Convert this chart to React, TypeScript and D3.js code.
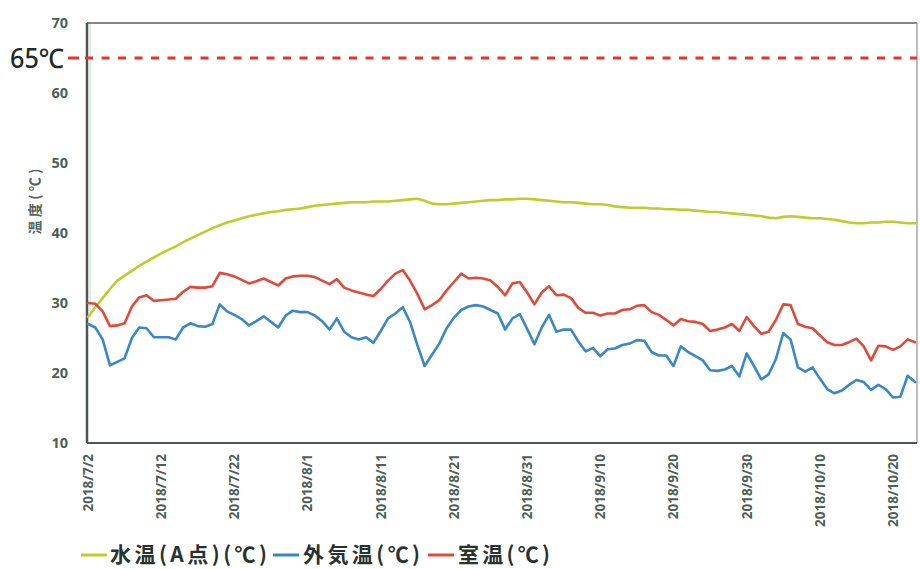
import React from "react";
import * as d3 from "d3";

const startDate = new Date(2018, 6, 2);
const endDate = new Date(2018, 9, 23);

const waterTemp = [
  28.0, 29.4, 30.7, 32.0, 33.2, 33.9, 34.6, 35.3, 35.9, 36.5,
  37.1, 37.6, 38.1, 38.7, 39.2, 39.7, 40.2, 40.7, 41.1, 41.5,
  41.8, 42.1, 42.4, 42.6, 42.8, 43.0, 43.1, 43.3, 43.4, 43.5,
  43.7, 43.9, 44.0, 44.1, 44.2, 44.3, 44.4, 44.4, 44.4, 44.5,
  44.5, 44.5, 44.6, 44.7, 44.8, 44.9, 44.6, 44.2, 44.1, 44.1,
  44.2, 44.3, 44.4, 44.5, 44.6, 44.7, 44.7, 44.8, 44.8, 44.9,
  44.9, 44.8, 44.7, 44.6, 44.5, 44.4, 44.4, 44.3, 44.2, 44.1,
  44.1, 44.0, 43.8, 43.7, 43.6, 43.6, 43.6, 43.5, 43.5, 43.4,
  43.4, 43.3, 43.3, 43.2, 43.1, 43.0, 43.0, 42.9, 42.8, 42.7,
  42.6, 42.5, 42.4, 42.2, 42.1, 42.3, 42.4, 42.3, 42.2, 42.1,
  42.1, 42.0, 41.9, 41.7, 41.5, 41.4, 41.4, 41.5, 41.5, 41.6,
  41.6, 41.5, 41.4, 41.4,
];

const outdoorTemp = [
  27.0, 26.5, 24.8, 21.1, 21.6, 22.1, 25.0, 26.5, 26.4, 25.1,
  25.1, 25.1, 24.8, 26.5, 27.1, 26.7, 26.6, 27.0, 29.8, 28.8,
  28.3, 27.7, 26.8, 27.4, 28.1, 27.3, 26.5, 28.2, 28.9, 28.7,
  28.7, 28.2, 27.4, 26.2, 27.8, 25.9, 25.1, 24.8, 25.1, 24.3,
  26.0, 27.8, 28.5, 29.4, 27.3, 24.0, 21.0, 22.6, 24.2, 26.4,
  27.9, 29.0, 29.5, 29.7, 29.5, 29.0, 28.5, 26.2, 27.8, 28.4,
  26.3, 24.1, 26.5, 28.3, 25.9, 26.2, 26.2, 24.5, 23.1, 23.6,
  22.4, 23.4, 23.5, 24.0, 24.2, 24.7, 24.6, 23.0, 22.5, 22.5,
  21.0, 23.8, 23.0, 22.4, 21.8, 20.4, 20.3, 20.5, 21.0, 19.5,
  22.8, 21.0, 19.1, 19.8, 22.0, 25.7, 24.8, 20.8, 20.2, 20.8,
  19.2, 17.7, 17.1, 17.5, 18.3, 19.0, 18.7, 17.6, 18.3, 17.7,
  16.5, 16.6, 19.6, 18.7,
];

const roomTemp = [
  30.0, 29.9, 28.8, 26.7, 26.8, 27.1, 29.5, 30.8, 31.1, 30.3,
  30.4, 30.5, 30.6, 31.6, 32.3, 32.2, 32.2, 32.4, 34.3, 34.1,
  33.8, 33.3, 32.8, 33.1, 33.5, 33.0, 32.5, 33.5, 33.8, 33.9,
  33.9, 33.7, 33.2, 32.7, 33.4, 32.2, 31.8, 31.5, 31.2, 31.0,
  32.0, 33.2, 34.2, 34.7, 33.2, 31.3, 29.1, 29.7, 30.4, 31.8,
  33.0, 34.2, 33.5, 33.6, 33.5, 33.2, 32.3, 31.1, 32.8, 33.0,
  31.5, 29.8, 31.5, 32.4, 31.1, 31.2, 30.7, 29.3, 28.6, 28.6,
  28.2, 28.5, 28.5, 29.0, 29.1, 29.6, 29.7, 28.7, 28.3, 27.6,
  26.8, 27.7, 27.4, 27.3, 27.0, 26.0, 26.2, 26.5, 27.0, 26.0,
  28.0, 26.7, 25.6, 25.9, 27.6, 29.8, 29.7, 27.0, 26.6, 26.4,
  25.4, 24.4, 24.0, 24.0, 24.4, 24.9, 23.8, 21.8, 23.9, 23.8,
  23.3, 23.8, 24.8, 24.4,
];

const yTicks = [10, 20, 30, 40, 50, 60, 70];
const xTickLabels = [
  "2018/7/2", "2018/7/12", "2018/7/22", "2018/8/1", "2018/8/11", "2018/8/21",
  "2018/8/31", "2018/9/10", "2018/9/20", "2018/9/30", "2018/10/10", "2018/10/20",
];
const limitValue = 65;
const limitLabel = "65℃";
const yAxisTitle = "温度(℃)";
const seriesNames = ["水温(A点)(℃)", "外気温(℃)", "室温(℃)"];
const seriesColors = ["#bccd2e", "#3a88c6", "#e04a3b"];

export default function App() {
  const W = 920, H = 569;
  const left = 87, right = 917, top = 23, bottom = 443;
  const days = d3.timeDay.range(startDate, d3.timeDay.offset(endDate, 1));
  const x = d3.scaleTime().domain([startDate, endDate]).range([88, 915]);
  const y = d3.scaleLinear().domain([10, 70]).range([bottom, top]);
  const parse = d3.timeParse("%Y/%m/%d");
  const series = [waterTemp, outdoorTemp, roomTemp];
  const line = d3
    .line<number>()
    .x((_, i) => x(days[i]))
    .y((v) => y(v))
    .curve(d3.curveLinear);

  const labelFont = "'Noto Sans', 'DejaVu Sans', sans-serif";
  const cjkFont = "'Noto Sans CJK JP', 'Noto Sans', sans-serif";
  const tickColor = "#4e5f57";

  const legendItems = [
    { lx: 81, tx: 110, w: 157 },
    { lx: 273, tx: 303, w: 117 },
    { lx: 428, tx: 458, w: 92 },
  ];

  return (
    <svg
      width={W}
      height={H}
      style={{ position: "absolute", left: 0, top: 0, background: "#fff" }}
    >
      <rect x={0} y={0} width={W} height={H} fill="#fff" />
      {/* faint green rise along left axis */}
      <line
        x1={x(days[0]) + 2}
        x2={x(days[0]) + 2}
        y1={y(70)}
        y2={y(waterTemp[0])}
        stroke="#bfe3c8"
        strokeWidth={1.5}
        opacity={0.7}
      />
      {/* frame */}
      <line x1={left} x2={right} y1={top} y2={top} stroke="#5b605d" strokeWidth={1.5} />
      <line x1={right} x2={right} y1={top} y2={bottom} stroke="#8d9290" strokeWidth={1.2} />
      <line x1={left} x2={right} y1={bottom} y2={bottom} stroke="#4f5552" strokeWidth={2} />
      <line x1={left} x2={left} y1={top} y2={bottom} stroke="#4f5552" strokeWidth={2.5} />

      {/* y ticks */}
      {yTicks.map((t) => (
        <text
          key={t}
          x={68}
          y={y(t)}
          dy="0.36em"
          textAnchor="end"
          fontFamily={labelFont}
          fontWeight={700}
          fontSize={14.5}
          fill={tickColor}
        >
          {t}
        </text>
      ))}

      {/* y axis title */}
      <text
        transform={`translate(40,${y(44.5)}) rotate(-90)`}
        textAnchor="middle"
        fontFamily={cjkFont}
        fontWeight={700}
        fontSize={14}
        fill="#55635c"
        textLength={66}
        lengthAdjust="spacing"
      >
        {yAxisTitle}
      </text>

      {/* x ticks */}
      {xTickLabels.map((lab) => {
        const d = parse(lab.replace(/\/(\d)(?=\/|$)/g, "/0$1"))!;
        const px = x(d);
        return (
          <text
            key={lab}
            transform={`translate(${px},${bottom + 11}) rotate(-90)`}
            dy="0.36em"
            textAnchor="end"
            fontFamily={labelFont}
            fontWeight={700}
            fontSize={13.5}
            fill={tickColor}
          >
            {lab}
          </text>
        );
      })}

      {/* series */}
      {series.map((s, i) => (
        <path
          key={i}
          d={line(s) || ""}
          fill="none"
          stroke={seriesColors[i]}
          strokeWidth={2.6}
          strokeLinejoin="round"
          strokeLinecap="round"
        />
      ))}

      {/* limit line */}
      <line
        x1={68}
        x2={79}
        y1={y(limitValue)}
        y2={y(limitValue)}
        stroke="#e8322b"
        strokeWidth={3}
      />
      <line
        x1={85}
        x2={right}
        y1={y(limitValue)}
        y2={y(limitValue)}
        stroke="#e8322b"
        strokeWidth={3}
        strokeDasharray="8 8.5"
      />
      <text
        x={10}
        y={y(limitValue)}
        dy="0.36em"
        fontFamily={labelFont}
        fontSize={27}
        fontWeight={500}
        fill="#1f2b26"
        textLength={54}
        lengthAdjust="spacingAndGlyphs"
      >
        {limitLabel}
      </text>

      {/* legend */}
      {legendItems.map((it, i) => (
        <g key={i}>
          <line
            x1={it.lx}
            x2={it.lx + 26}
            y1={555}
            y2={555}
            stroke={seriesColors[i]}
            strokeWidth={3}
          />
          <text
            x={it.tx}
            y={562}
            fontFamily={cjkFont}
            fontWeight={700}
            fontSize={21}
            fill="#26332e"
            textLength={it.w}
            lengthAdjust="spacing"
          >
            {seriesNames[i]}
          </text>
        </g>
      ))}
    </svg>
  );
}
